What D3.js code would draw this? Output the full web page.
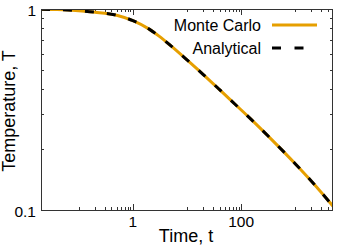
<!DOCTYPE html>
<html>
<head>
<meta charset="utf-8">
<script src="https://cdn.jsdelivr.net/npm/d3@7"></script>
<style>
  html, body { margin: 0; padding: 0; background: #fff; }
  svg { display: block; font-family: "Liberation Sans", Arial, sans-serif; }
</style>
</head>
<body>
<svg id="chart" width="350" height="245"></svg>
<script>
// ---- data ----
const timeValues = [0.02, 0.04, 0.1, 0.2, 0.5, 1, 2, 3, 5, 10, 20, 40, 80, 150, 400, 1000, 2000, 5000];
const monteCarloT = [0.998, 0.993, 0.980, 0.964, 0.931, 0.875, 0.794, 0.735, 0.657, 0.558, 0.472, 0.397, 0.333, 0.284, 0.219, 0.170, 0.139, 0.1045];
const analyticalT = [0.998, 0.993, 0.980, 0.964, 0.931, 0.875, 0.794, 0.735, 0.657, 0.558, 0.472, 0.397, 0.333, 0.284, 0.219, 0.170, 0.139, 0.1045];
const xTickValues = [1, 100];
const xTickLabels = ["1", "100"];
const xMinorTicks = [0.1, 0.2, 0.3, 0.4, 0.5, 0.6, 0.7, 0.8, 0.9, 10, 20, 30, 40, 50, 60, 70, 80, 90, 1000, 2000, 3000, 4000];
const yTickValues = [0.1, 1];
const yTickLabels = ["0.1", "1"];
const yMinorTicks = [0.2, 0.3, 0.4, 0.5, 0.6, 0.7, 0.8, 0.9];
const seriesNames = ["Monte Carlo", "Analytical"];
const xLabel = "Time, t";
const yLabel = "Temperature, T";

// ---- layout ----
const svg = d3.select("#chart");
const L = 41, R = 333, T = 9, B = 210;
const orange = "#e69f00";
const borderColor = "#333";

const x = d3.scaleLog().domain([0.02, 5000]).range([L, R]);
const y = d3.scaleLog().domain([0.1, 1]).range([B, T]);

svg.append("defs").append("clipPath").attr("id", "clip")
  .append("rect").attr("x", L).attr("y", T).attr("width", R - L).attr("height", B - T);

const tickG = svg.append("g").attr("stroke", borderColor).attr("stroke-width", 1);
xTickValues.forEach(v => {
  const px = Math.round(x(v)) + 0.5;
  tickG.append("line").attr("x1", px).attr("x2", px).attr("y1", B).attr("y2", B - 6);
  tickG.append("line").attr("x1", px).attr("x2", px).attr("y1", T).attr("y2", T + 6);
});
xMinorTicks.forEach(v => {
  const px = Math.round(x(v)) + 0.5;
  tickG.append("line").attr("x1", px).attr("x2", px).attr("y1", B).attr("y2", B - 3);
  tickG.append("line").attr("x1", px).attr("x2", px).attr("y1", T).attr("y2", T + 3);
});
yMinorTicks.forEach(v => {
  const py = Math.round(y(v)) + 0.5;
  tickG.append("line").attr("x1", L).attr("x2", L + 3).attr("y1", py).attr("y2", py);
  tickG.append("line").attr("x1", R).attr("x2", R - 3).attr("y1", py).attr("y2", py);
});

// curves
const line = d3.line()
  .x(d => x(d[0]))
  .y(d => y(d[1]))
  .curve(d3.curveMonotoneX);

const plotG = svg.append("g").attr("clip-path", "url(#clip)");
plotG.append("path")
  .datum(timeValues.map((t, i) => [t, monteCarloT[i]]))
  .attr("d", line)
  .attr("fill", "none")
  .attr("stroke", orange)
  .attr("stroke-width", 3);
plotG.append("path")
  .datum(timeValues.map((t, i) => [t, analyticalT[i]]))
  .attr("d", line)
  .attr("fill", "none")
  .attr("stroke", "#000")
  .attr("stroke-width", 3)
  .attr("stroke-dasharray", "9,13");

// border
svg.append("rect")
  .attr("x", L + 0.5).attr("y", T + 0.5)
  .attr("width", R - L - 1).attr("height", B - T)
  .attr("fill", "none").attr("stroke", borderColor).attr("stroke-width", 1);

// tick labels
xTickValues.forEach((v, i) => {
  svg.append("text").attr("x", x(v)).attr("y", 227)
    .attr("text-anchor", "middle").attr("font-size", 15.5).attr("fill", "#000")
    .text(xTickLabels[i]);
});
yTickValues.forEach((v, i) => {
  svg.append("text").attr("x", 36).attr("y", y(v) + 7)
    .attr("text-anchor", "end").attr("font-size", 15.5).attr("fill", "#000")
    .text(yTickLabels[i]);
});

// axis labels
svg.append("text").attr("x", 186).attr("y", 242)
  .attr("text-anchor", "middle").attr("font-size", 18).attr("fill", "#000")
  .text(xLabel);
svg.append("text")
  .attr("transform", "translate(15,111) rotate(-90)")
  .attr("text-anchor", "middle").attr("font-size", 18).attr("fill", "#000")
  .text(yLabel);

// legend
const legY = [25, 48];
seriesNames.forEach((name, i) => {
  svg.append("text").attr("x", 261).attr("y", legY[i] + 6)
    .attr("text-anchor", "end").attr("font-size", 16).attr("fill", "#000")
    .text(name);
  const ln = svg.append("line")
    .attr("y1", legY[i]).attr("y2", legY[i])
    .attr("stroke-width", 3);
  if (i === 0) ln.attr("x1", 272).attr("x2", 317).attr("stroke", orange);
  else ln.attr("x1", 272).attr("x2", 303.5).attr("stroke", "#000").attr("stroke-dasharray", "9,13.5");
});
</script>
</body>
</html>
